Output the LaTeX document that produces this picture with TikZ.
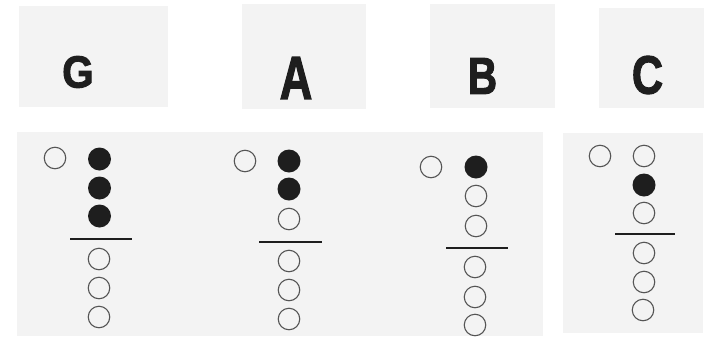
\documentclass[tikz,border=0pt]{standalone}
\usepackage{fontspec}
\setmainfont{Liberation Sans}
\newfontfamily\heavyfont{Liberation Sans Bold}[FakeBold=2.2]
\definecolor{paper}{RGB}{243,243,243}
\definecolor{ink}{RGB}{30,30,30}
\definecolor{ring}{RGB}{85,85,85}
\begin{document}
\begin{tikzpicture}[x=1pt,y=-1pt,
  panel/.style={fill=paper,draw=none},
  hole/.style={circle,draw=ring,line width=1.1pt,fill=none,minimum size=21.5pt,inner sep=0pt},
  closed/.style={circle,fill=ink,draw=none,minimum size=23pt,inner sep=0pt},
  bar/.style={draw=ink,line width=2.4pt},
  letter/.style={inner sep=0pt,text=ink,font=\heavyfont}]
\useasboundingbox (0,0) rectangle (712,338);
% top panels
\fill[panel] (19,6) rectangle (168,107);
\fill[panel] (242,4) rectangle (366,109);
\fill[panel] (430,4) rectangle (555,108);
\fill[panel] (599,8) rectangle (704,108);
% bottom panels
\fill[panel] (17,132) rectangle (543,336);
\fill[panel] (563,133) rectangle (703,333);
% letters
\node[letter] (lG) at (78,72) {\fontsize{45}{45}\selectfont\scalebox{0.9}[1]{G}};
\node[letter] (lA) at (296,78) {\fontsize{61}{61}\selectfont\scalebox{0.74}[1]{A}};
\node[letter] (lB) at (482.5,76) {\fontsize{52}{52}\selectfont\scalebox{0.78}[1]{B}};
\node[letter] (lC) at (647.5,75) {\fontsize{54}{54}\selectfont\scalebox{0.8}[1]{C}};
% G fingering
\node[hole] (g0) at (55,158) {};
\node[closed] (g1) at (99.5,159) {};
\node[closed] (g2) at (99.5,188) {};
\node[closed] (g3) at (99.5,216) {};
\coordinate (gL) at (70,239); \coordinate (gR) at (132,239);
\draw[bar] (gL) -- (gR);
\node[hole] (g4) at (99,259) {};
\node[hole] (g5) at (99,288) {};
\node[hole] (g6) at (99,317) {};
% A fingering
\node[hole] (a0) at (245,161) {};
\node[closed] (a1) at (289,161) {};
\node[closed] (a2) at (289,189) {};
\node[hole] (a3) at (289,219) {};
\coordinate (aL) at (259,242); \coordinate (aR) at (322,242);
\draw[bar] (aL) -- (aR);
\node[hole] (a4) at (289,261) {};
\node[hole] (a5) at (289,290) {};
\node[hole] (a6) at (289,319) {};
% B fingering
\node[hole] (b0) at (431,167) {};
\node[closed] (b1) at (476,167) {};
\node[hole] (b2) at (476,196) {};
\node[hole] (b3) at (476,226) {};
\coordinate (bL) at (446,248); \coordinate (bR) at (508,248);
\draw[bar] (bL) -- (bR);
\node[hole] (b4) at (475,267) {};
\node[hole] (b5) at (475,297) {};
\node[hole] (b6) at (475,325) {};
% C fingering
\node[hole] (c0) at (600,156) {};
\node[hole] (c1) at (644,156) {};
\node[closed] (c2) at (644,185) {};
\node[hole] (c3) at (644,213) {};
\coordinate (cL) at (615,234); \coordinate (cR) at (675,234);
\draw[bar] (cL) -- (cR);
\node[hole] (c4) at (644,253) {};
\node[hole] (c5) at (644,282) {};
\node[hole] (c6) at (643,310) {};
\end{tikzpicture}
\end{document}
